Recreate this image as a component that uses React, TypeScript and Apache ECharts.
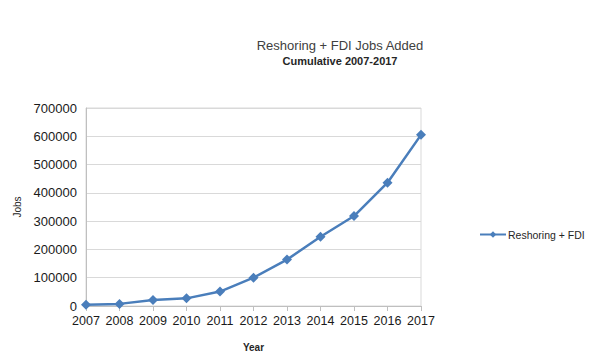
import React, { useEffect, useRef } from "react";
import * as echarts from "echarts";

const years = ["2007", "2008", "2009", "2010", "2011", "2012", "2013", "2014", "2015", "2016", "2017"];
const jobs = [4000, 7500, 21500, 27000, 51000, 100000, 164000, 245000, 318000, 436000, 605000];
const seriesName = "Reshoring + FDI";
const titleText = "Reshoring + FDI Jobs Added";
const subtitleText = "Cumulative 2007-2017";

const FONT = "'Liberation Sans', Arial, sans-serif";
const LINE = "#4a7ebb";

export default function App() {
  const ref = useRef<HTMLDivElement>(null);
  useEffect(() => {
    if (!ref.current) return;
    const chart = echarts.init(ref.current, undefined, { renderer: "svg" });
    chart.setOption({
      animation: false,
      backgroundColor: "#ffffff",
      textStyle: { fontFamily: FONT },
      graphic: [
        {
          type: "text",
          x: 340,
          y: 45,
          style: {
            text: titleText,
            font: `13px ${FONT}`,
            fill: "#404040",
            textAlign: "center",
            textVerticalAlign: "middle",
          },
        },
        {
          type: "text",
          x: 340,
          y: 61,
          style: {
            text: subtitleText,
            font: `bold 11px ${FONT}`,
            fill: "#262626",
            textAlign: "center",
            textVerticalAlign: "middle",
          },
        },
      ],
      legend: {
        left: 474,
        top: 224,
        itemWidth: 26,
        itemHeight: 8,
        itemGap: 4,
        textStyle: { fontSize: 10.5, color: "#262626", fontFamily: FONT, padding: [0, 0, 0, -3] },
        data: [seriesName],
      },
      grid: {
        left: 86,
        top: 108,
        width: 335,
        height: 202,
        show: true,
        borderColor: "#d9d9d9",
        borderWidth: 1,
      },
      xAxis: {
        type: "category",
        data: years,
        boundaryGap: false,
        name: "Year",
        nameLocation: "middle",
        nameGap: 36,
        nameTextStyle: { fontSize: 10, fontWeight: "bold", color: "#262626", fontFamily: FONT },
        axisLine: { lineStyle: { color: "#bfbfbf" } },
        axisTick: { show: true, length: 5, interval: 0, lineStyle: { color: "#bfbfbf" } },
        axisLabel: { fontSize: 12.5, color: "#1a1a1a", margin: 8, interval: 0, fontFamily: FONT },
      },
      yAxis: {
        type: "value",
        min: 0,
        max: 700000,
        interval: 100000,
        name: "Jobs",
        nameLocation: "middle",
        nameRotate: 90,
        nameGap: 62,
        nameTextStyle: { fontSize: 10, color: "#262626", fontFamily: FONT },
        axisLine: { show: true, lineStyle: { color: "#bfbfbf" } },
        axisTick: { show: false },
        splitLine: { lineStyle: { color: "#d9d9d9" } },
        axisLabel: {
          fontSize: 13,
          color: "#1a1a1a",
          margin: 9,
          fontFamily: FONT,
          formatter: (v: number) => String(v),
        },
      },
      series: [
        {
          name: seriesName,
          type: "line",
          data: jobs,
          symbol: "diamond",
          symbolSize: 10,
          lineStyle: { color: LINE, width: 2.5 },
          itemStyle: { color: LINE },
        },
      ],
    });
    return () => chart.dispose();
  }, []);
  return (
    <div
      ref={ref}
      style={{ position: "fixed", left: 0, top: 0, width: 600, height: 357, background: "#fff" }}
    />
  );
}
